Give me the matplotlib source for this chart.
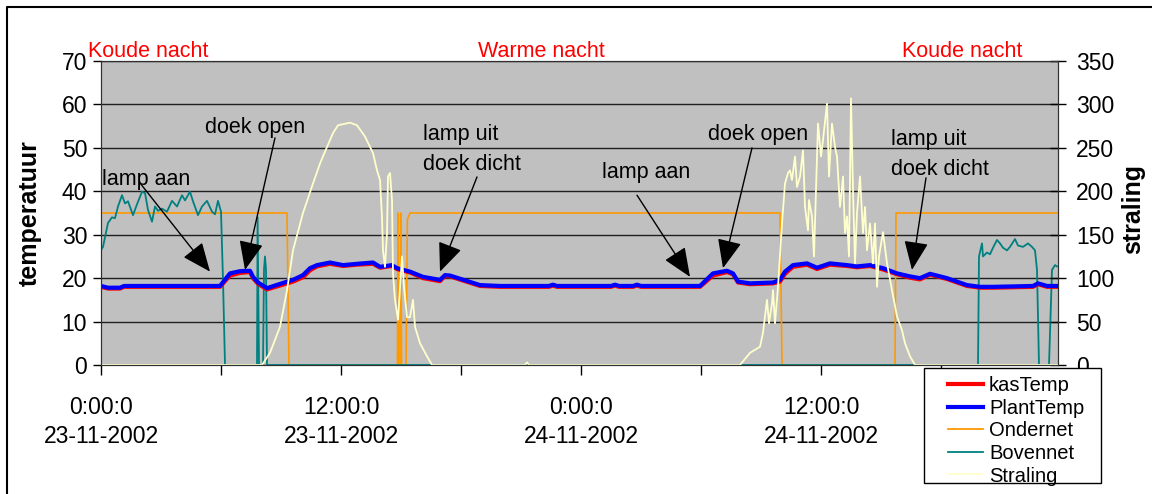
import matplotlib
matplotlib.use("Agg")
import matplotlib.pyplot as plt
from matplotlib.lines import Line2D
from matplotlib.patches import Rectangle

# ===== DATA (hours since 23-11-2002 0:00) =====
temp_hours = [0.0, 0.35, 0.95, 1.15, 3.0, 5.95, 6.45, 6.95, 7.45, 7.6,
              7.85, 8.3, 9.1, 9.6, 10.1, 10.45, 10.8, 11.45, 12.1, 12.8,
              13.6, 13.95, 14.55, 14.8, 15.45, 16.1, 16.95, 17.2, 17.45, 18.2,
              18.95, 19.95, 22.4, 22.6, 22.8, 25.5, 25.7, 25.9, 26.6, 26.8,
              27.0, 29.95, 30.6, 31.3, 31.6, 31.85, 32.45, 33.6, 33.95, 34.2,
              34.6, 35.3, 35.8, 36.45, 37.3, 37.8, 38.45, 39.1, 39.8, 40.45,
              40.95, 41.45, 42.3, 43.3, 43.95, 44.6, 46.6, 46.85, 47.3, 47.8]
plant_temp = [18.2, 17.8, 17.8, 18.2, 18.2, 18.2, 21.1, 21.6, 21.7, 20.3,
              19.0, 17.7, 18.9, 19.6, 20.7, 22.3, 23.0, 23.6, 23.0, 23.3,
              23.6, 22.6, 23.0, 22.3, 21.5, 20.3, 19.6, 20.7, 20.6, 19.5,
              18.4, 18.2, 18.2, 18.5, 18.2, 18.2, 18.5, 18.2, 18.2, 18.5,
              18.2, 18.2, 21.1, 21.7, 21.1, 19.2, 18.8, 19.0, 19.6, 21.5,
              23.0, 23.4, 22.4, 23.4, 23.0, 22.7, 23.0, 22.3, 21.1, 20.4,
              20.0, 21.0, 20.0, 18.4, 18.0, 18.0, 18.2, 18.8, 18.2, 18.2]
kas_temp = [18.0, 17.6, 17.6, 18.0, 18.0, 18.0, 20.6, 21.2, 21.4, 20.0,
            18.7, 17.4, 18.5, 19.2, 20.2, 21.8, 22.7, 23.3, 22.8, 23.1,
            23.3, 22.4, 22.8, 22.1, 21.3, 20.0, 19.3, 20.5, 20.4, 19.3,
            18.2, 18.0, 18.0, 18.3, 18.0, 18.0, 18.3, 18.0, 18.0, 18.3,
            18.0, 18.0, 20.6, 21.4, 20.9, 19.0, 18.6, 18.8, 19.2, 21.0,
            22.6, 23.1, 22.1, 23.1, 22.8, 22.5, 22.8, 22.0, 20.9, 20.1,
            19.7, 20.8, 19.8, 18.2, 17.8, 17.8, 18.0, 18.6, 18.0, 18.0]

onder_hours = [0.0, 9.3, 9.4, 14.82, 14.85, 14.89, 14.96, 14.99, 15.03, 15.25,
               15.32, 15.45, 33.95, 34.05, 39.7, 39.75, 47.85]
onder_vals = [35, 35, 0, 0, 35, 0, 0, 35, 0, 0,
              33.5, 35, 35, 0, 0, 35, 35]

boven_hours = [0.0, 0.1, 0.35, 0.55, 0.7, 0.85, 1.05, 1.2, 1.35, 1.6,
               1.8, 2.05, 2.2, 2.35, 2.55, 2.7, 2.85, 3.05, 3.3, 3.55,
               3.8, 4.05, 4.2, 4.45, 4.6, 4.85, 5.05, 5.3, 5.55, 5.7,
               5.85, 6.0, 6.1, 6.2, 7.8, 7.83, 7.9, 8.1, 8.15, 8.2,
               8.25, 8.3, 43.85, 43.9, 44.05, 44.1, 44.3, 44.45, 44.6, 44.8,
               44.95, 45.1, 45.3, 45.45, 45.7, 45.85, 46.1, 46.35, 46.55, 46.7,
               46.8, 46.9, 47.4, 47.55, 47.7, 47.8]
boven_vals = [26.5, 27.2, 32.7, 34.0, 33.8, 36.5, 39.1, 37.2, 37.7, 34.5,
              37.0, 39.9, 39.6, 35.7, 33.0, 36.5, 35.5, 36.0, 35.3, 37.8,
              36.5, 39.1, 37.9, 39.9, 37.7, 34.5, 36.5, 37.8, 35.3, 34.7,
              37.8, 35.3, 19.6, 0, 0, 34.0, 0, 0, 22.0, 25.0,
              22.0, 0, 0, 25.0, 28.0, 25.0, 25.9, 25.5, 27.0, 28.8,
              28.0, 27.0, 26.4, 27.2, 29.0, 27.5, 27.2, 28.0, 27.2, 26.4,
              21.9, 0, 0, 21.9, 23.0, 22.7]

stral_hours = [0.0, 8.05, 8.45, 8.95, 9.3, 9.6, 10.1, 10.6, 10.95, 11.3,
               11.6, 11.85, 12.45, 12.8, 13.2, 13.6, 13.8, 13.95, 14.05, 14.1,
               14.2, 14.3, 14.35, 14.45, 14.55, 14.6, 14.7, 14.85, 15.05, 15.15,
               15.3, 15.45, 15.6, 15.7, 15.95, 16.3, 16.55, 21.2, 21.3, 21.4,
               31.95, 32.45, 32.95, 33.1, 33.3, 33.4, 33.55, 33.6, 33.7, 33.85,
               34.05, 34.2, 34.35, 34.45, 34.55, 34.7, 34.8, 34.95, 35.1, 35.2,
               35.35, 35.4, 35.55, 35.65, 35.8, 35.85, 36.0, 36.1, 36.3, 36.4,
               36.55, 36.7, 36.8, 36.95, 37.1, 37.2, 37.3, 37.4, 37.5, 37.6,
               37.7, 37.8, 37.95, 38.1, 38.2, 38.3, 38.45, 38.6, 38.7, 38.8,
               38.9, 39.1, 39.3, 39.55, 39.8, 40.05, 40.2, 40.45, 40.7, 47.85]
stral_vals = [0, 0, 14, 44, 86, 132, 175, 209, 232, 251,
              267, 276, 279, 276, 263, 244, 224, 213, 170, 132,
              113, 152, 217, 221, 190, 105, 75, 52, 125, 90,
              55, 55, 75, 44, 25, 10, 0, 0, 3, 0,
              0, 14, 21, 37, 75, 48, 71, 86, 48, 90,
              163, 209, 221, 224, 213, 240, 205, 217, 247, 182,
              155, 190, 171, 125, 240, 278, 240, 259, 301, 217,
              278, 251, 240, 182, 217, 152, 171, 125, 307, 201,
              117, 175, 217, 152, 182, 132, 163, 117, 163, 90,
              125, 153, 117, 86, 56, 40, 25, 10, 0, 0]

tick_hours = [0, 6, 12, 18, 24, 30, 36, 42]
tick_labels = ['0:00:0\n23-11-2002', '', '12:00:0\n23-11-2002', '',
               '0:00:0\n24-11-2002', '', '12:00:0\n24-11-2002', '']

# (text lines, text pos, arrow tail, arrow tip) in hours / temperatuur
notes = [
    (["lamp aan"], (0.05, 41.4), (1.95, 41.9), (5.45, 21.5)),
    (["doek open"], (5.2, 53.4), (8.7, 52.3), (7.2, 21.9)),
    (["lamp uit", "doek dicht"], (16.1, 51.8), (18.8, 43.3), (16.95, 21.5)),
    (["lamp aan"], (25.05, 43.0), (26.8, 39.1), (29.45, 20.3)),
    (["doek open"], (30.35, 51.8), (32.55, 50.0), (31.1, 22.3)),
    (["lamp uit", "doek dicht"], (39.5, 50.7), (41.25, 43.1), (40.55, 21.9)),
]

# ===== PLOT =====
plt.rcParams['font.family'] = ['Liberation Sans', 'DejaVu Sans']

W, H = 1152, 494
fig = plt.figure(figsize=(W / 100, H / 100), dpi=100)
ax = fig.add_axes([101 / W, 1 - 365 / H, 957 / W, 304 / H])
ax.set_facecolor('#C0C0C0')

ax.plot(onder_hours, onder_vals, color='#FF9900', lw=1.2, zorder=3)
ax.plot(boven_hours, boven_vals, color='#008080', lw=1.3, zorder=3)
ax.plot(temp_hours, kas_temp, color='#FF0000', lw=3, zorder=4)
ax.plot(temp_hours, plant_temp, color='#0000FF', lw=3, zorder=5)

ax.set_xlim(0, 47.85)
ax.set_ylim(0, 70)
ax.set_yticks(range(0, 71, 10))
ax.set_xticks(tick_hours)
ax.set_xticklabels(tick_labels)
for lbl in ax.get_xticklabels():
    lbl.set_linespacing(1.35)
ax.grid(axis='y', color='#202020', lw=1)
ax.set_axisbelow(True)
ax.tick_params(axis='y', direction='out', length=6, width=1, pad=4, labelsize=16.5)
ax.tick_params(axis='x', direction='out', length=7, width=1, pad=15, labelsize=16.5)
for s in ax.spines.values():
    s.set_color('#303030')

ax2 = ax.twinx()
ax2.plot(stral_hours, stral_vals, color='#FFFFCC', lw=1.3)
ax2.set_ylim(0, 350)
ax2.set_yticks(range(0, 351, 50))
ax2.tick_params(axis='y', direction='inout', length=12, width=1, pad=7, labelsize=16.5)
for s in ax2.spines.values():
    s.set_color('#303030')

for lines, tpos, tail, tip in notes:
    for i, line in enumerate(lines):
        ax2.text(tpos[0], (tpos[1] - i * 6.9) * 5, line, fontsize=15.5,
                 ha='left', va='baseline', zorder=6)
    ax2.annotate('', xy=(tip[0], tip[1] * 5), xytext=(tail[0], tail[1] * 5),
                 arrowprops=dict(arrowstyle='-|>,head_length=0.9,head_width=0.38',
                                 color='black', lw=1.0, mutation_scale=20,
                                 shrinkA=0, shrinkB=0), zorder=6)

# red night labels above the plot
for cx, label in [(148, 'Koude nacht'), (541, 'Warme nacht'), (962, 'Koude nacht')]:
    fig.text(cx / W, 1 - 57 / H, label, color='#FF0000', fontsize=15.5,
             ha='center', va='baseline')

fig.text(30 / W, 1 - 213 / H, 'temperatuur', rotation=90, fontsize=18,
         fontweight='bold', ha='center', va='center')
fig.text(1133 / W, 1 - 209 / H, 'straling', rotation=90, fontsize=18,
         fontweight='bold', ha='center', va='center')

# legend: white box with black border, entries placed inside it
fig.add_artist(Rectangle((924 / W, 1 - 483 / H), 177 / W, 115 / H,
                         transform=fig.transFigure, facecolor='white',
                         edgecolor='black', lw=1, zorder=4.9))
handles = [Line2D([], [], color='#FF0000', lw=3),
           Line2D([], [], color='#0000FF', lw=3),
           Line2D([], [], color='#FF9900', lw=1.3),
           Line2D([], [], color='#008080', lw=1.3),
           Line2D([], [], color='#FFFFCC', lw=1.3)]
labels = ['kasTemp', 'PlantTemp', 'Ondernet', 'Bovennet', 'Straling']
leg = fig.legend(handles, labels, loc='upper left',
                 bbox_to_anchor=(948 / W, 1 - 376 / H), fontsize=14.5,
                 frameon=False, handlelength=1.74, handletextpad=0.3,
                 labelspacing=0.18, borderpad=0, borderaxespad=0)

# outer chart frame
fig.add_artist(Line2D([7 / W, 7 / W, 1], [0, 1 - 7 / H, 1 - 7 / H],
                      transform=fig.transFigure, color='black', lw=1.5))

fig.savefig('out.png', dpi=100)
